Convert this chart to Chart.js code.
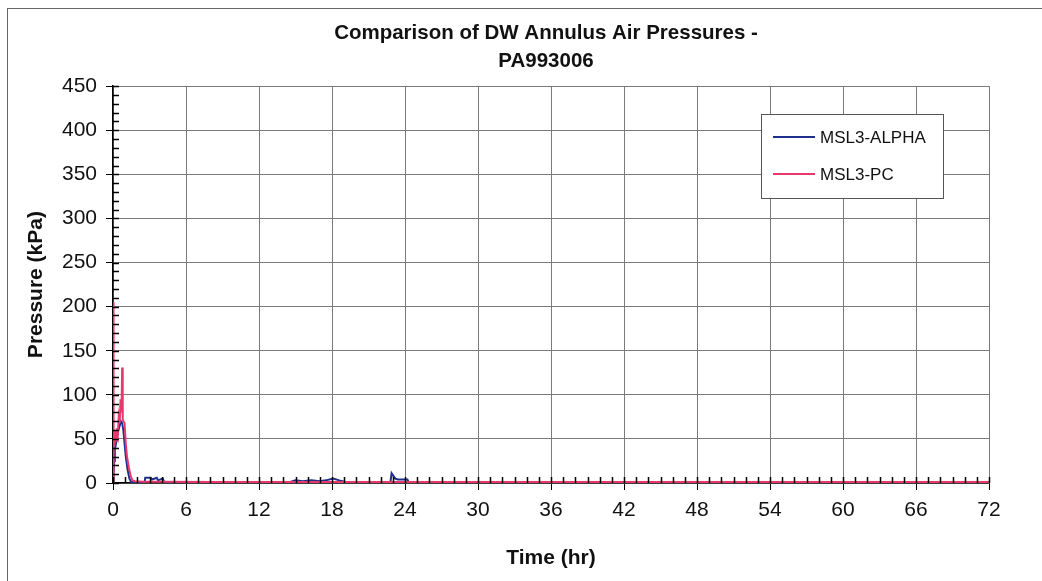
<!DOCTYPE html>
<html>
<head>
<meta charset="utf-8">
<title>Comparison of DW Annulus Air Pressures - PA993006</title>
<script src="https://cdn.jsdelivr.net/npm/chart.js@4.4.1/dist/chart.umd.min.js"></script>
<style>
  html, body { margin: 0; padding: 0; background: #ffffff; }
  #wrap { width: 1042px; height: 581px; }
</style>
</head>
<body>
<div id="wrap"><canvas id="pressureChart" width="1042" height="581"></canvas></div>
<script>
// Titel und Achsen
const chartTitle = ['Comparison of DW Annulus Air Pressures -', 'PA993006'];
const xTitle = 'Time (hr)';
const yTitle = 'Pressure (kPa)';
const seriesNames = ['MSL3-ALPHA', 'MSL3-PC'];

// Achsenbereich und Tick-Schritte
const xMin = 0, xMax = 72, xStep = 6, xMinorStep = 1;
const yMin = 0, yMax = 450, yStep = 50, yMinorStep = 10;

// MSL3-ALPHA (blau) - Zeit in h, Druck in kPa
const alphaTime = [0, 0.05, 0.1, 0.15, 0.25, 0.35, 0.45, 0.55, 0.65, 0.75, 0.85, 0.95, 1.05, 1.2, 1.35, 1.5,
  2.6, 2.65, 3.1, 3.2, 3.6, 3.7, 4.1, 4.2, 5.5, 14.5, 15, 15.6, 16.3, 17, 17.5, 18.1, 18.6, 19.2,
  22.8, 22.9, 23.2, 23.4, 24.2, 24.3, 72];
const alphaPressure = [0, 10, 25, 38, 45, 55, 60, 65, 70, 68, 60, 45, 30, 15, 5, 1,
  1, 6, 6, 4, 6, 3, 5, 1, 1, 1, 3, 2, 3, 2, 3, 5, 3, 1,
  1, 11, 5, 4, 4, 1, 1];

// MSL3-PC (pink)
const pcTime = [0, 0.02, 0.04, 0.08, 0.12, 0.18, 0.25, 0.32, 0.4, 0.47, 0.55, 0.62, 0.7, 0.75, 0.8, 0.85,
  0.95, 1.05, 1.15, 1.3, 1.45, 1.6, 1.8, 2.5, 4, 8, 72];
const pcPressure = [0, 205, 35, 55, 42, 60, 48, 62, 55, 75, 68, 95, 80, 131, 72, 70,
  68, 45, 30, 18, 8, 3, 2, 1.5, 1.5, 1, 1];

const colors = ['#1f2f8c', '#e8386e'];

function toPoints(times, values) {
  return times.map((t, i) => ({ x: t, y: values[i] }));
}

// weisser Hintergrund + Rahmen
const background = {
  id: 'background',
  beforeDraw(chart) {
    const ctx = chart.ctx;
    ctx.save();
    ctx.fillStyle = '#ffffff';
    ctx.fillRect(0, 0, chart.width, chart.height);
    ctx.strokeStyle = '#666666';
    ctx.lineWidth = 1;
    ctx.strokeRect(7.5, 8.5, chart.width + 40, chart.height + 40);
    ctx.restore();
  }
};

// Titel ueber dem ganzen Excel-Rahmen zentrieren
const titleShift = {
  id: 'titleShift',
  afterLayout(chart) {
    if (chart.titleBlock) {
      chart.titleBlock.left = 7;
      chart.titleBlock.right = 1085;
    }
  }
};

// kleine Ticks nach innen (Excel Stil)
const minorTicks = {
  id: 'minorTicks',
  afterDatasetsDraw(chart) {
    const { ctx, chartArea, scales: { x, y } } = chart;
    ctx.save();
    ctx.strokeStyle = '#000000';
    ctx.lineWidth = 1.5;
    ctx.beginPath();
    for (let t = xMin; t <= xMax; t += xMinorStep) {
      const px = Math.round(x.getPixelForValue(t)) + 0.5;
      ctx.moveTo(px, chartArea.bottom);
      ctx.lineTo(px, chartArea.bottom - 6);
    }
    for (let p = yMin; p <= yMax; p += yMinorStep) {
      const py = Math.round(y.getPixelForValue(p)) + 0.5;
      ctx.moveTo(chartArea.left, py);
      ctx.lineTo(chartArea.left + 6, py);
    }
    ctx.stroke();
    ctx.restore();
  }
};

// Legende mit Rahmen im Diagramm
const boxLegend = {
  id: 'boxLegend',
  afterDraw(chart) {
    const ctx = chart.ctx;
    const bx = 761, by = 114, bw = 182, bh = 84;
    ctx.save();
    ctx.fillStyle = '#ffffff';
    ctx.fillRect(bx, by, bw, bh);
    ctx.strokeStyle = '#555555';
    ctx.lineWidth = 1;
    ctx.strokeRect(bx + 0.5, by + 0.5, bw, bh);
    ctx.font = '17px Arial, "Liberation Sans", sans-serif';
    ctx.textBaseline = 'middle';
    chart.data.datasets.forEach((ds, i) => {
      const ly = by + 23 + i * 37;
      ctx.strokeStyle = ds.borderColor;
      ctx.lineWidth = 2;
      ctx.beginPath();
      ctx.moveTo(bx + 12, ly);
      ctx.lineTo(bx + 54, ly);
      ctx.stroke();
      ctx.fillStyle = '#111111';
      ctx.fillText(ds.label, bx + 59, ly + 1);
    });
    ctx.restore();
  }
};

const ctx = document.getElementById('pressureChart').getContext('2d');

const myChart = new Chart(ctx, {
  type: 'line',
  data: {
    datasets: [{
      label: seriesNames[0],
      data: toPoints(alphaTime, alphaPressure),
      borderColor: colors[0],
      backgroundColor: colors[0],
      borderWidth: 2,
      pointRadius: 0,
      order: 2
    }, {
      label: seriesNames[1],
      data: toPoints(pcTime, pcPressure),
      borderColor: colors[1],
      backgroundColor: colors[1],
      borderWidth: 2,
      pointRadius: 0,
      order: 1
    }]
  },
  options: {
    responsive: false,
    animation: false,
    layout: { padding: { left: 0, right: 53, top: 0, bottom: 0 } },
    scales: {
      x: {
        type: 'linear',
        min: xMin,
        max: xMax,
        afterFit: (scale) => { scale.height = 98; },
        ticks: {
          stepSize: xStep,
          color: '#111111',
          padding: 8,
          maxRotation: 0,
          font: { family: 'Arial, "Liberation Sans", sans-serif', size: 21 }
        },
        grid: { color: '#7a7a7a', lineWidth: 1, tickColor: '#000000', tickLength: 7 },
        border: { color: '#000000', width: 1.5 },
        title: {
          display: true,
          text: xTitle,
          color: '#111111',
          padding: { top: 0, bottom: 10 },
          font: { family: 'Arial, "Liberation Sans", sans-serif', size: 21, weight: 'bold' }
        }
      },
      y: {
        min: yMin,
        max: yMax,
        afterFit: (scale) => { scale.width = 113; },
        ticks: {
          stepSize: yStep,
          color: '#111111',
          padding: 9,
          font: { family: 'Arial, "Liberation Sans", sans-serif', size: 21 }
        },
        grid: { color: '#7a7a7a', lineWidth: 1, tickColor: '#000000', tickLength: 7 },
        border: { color: '#000000', width: 1.5 },
        title: {
          display: true,
          text: yTitle,
          color: '#111111',
          padding: { top: 24, bottom: 0 },
          font: { family: 'Arial, "Liberation Sans", sans-serif', size: 21, weight: 'bold' }
        }
      }
    },
    plugins: {
      legend: { display: false },
      tooltip: { enabled: false },
      title: {
        display: true,
        text: chartTitle,
        color: '#111111',
        padding: { top: 19, bottom: 11 },
        font: { family: 'Arial, "Liberation Sans", sans-serif', size: 20.5, weight: 'bold', lineHeight: 1.37 }
      }
    }
  },
  plugins: [background, titleShift, minorTicks, boxLegend]
});
</script>
</body>
</html>
